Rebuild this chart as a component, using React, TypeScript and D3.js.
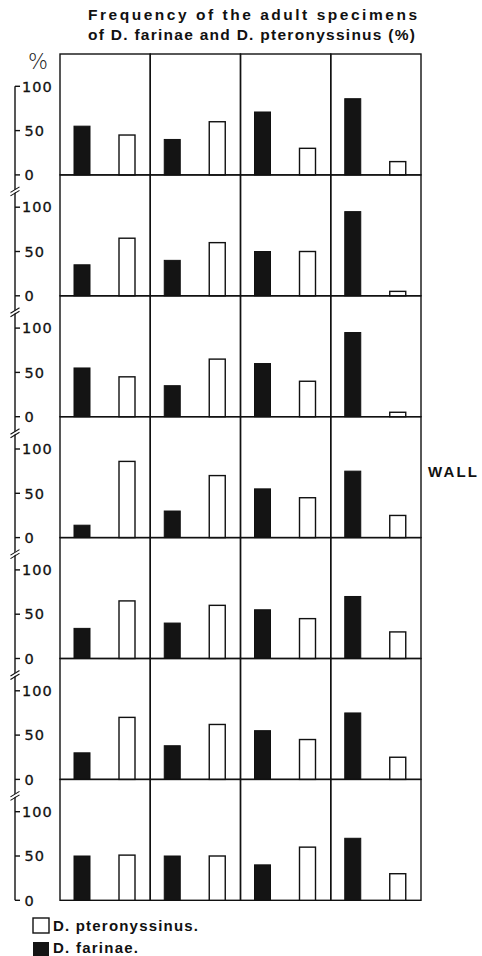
import * as d3 from "d3";

const width = 482;
const height = 956;

// 7 rows (top to bottom) x 4 columns, percent of adult specimens
const farinae = [
  [55, 40, 71, 86],
  [35, 40, 50, 95],
  [55, 35, 60, 95],
  [14, 30, 55, 75],
  [34, 40, 55, 70],
  [30, 38, 55, 75],
  [50, 50, 40, 70],
];
const pteronyssinus = [
  [45, 60, 30, 15],
  [65, 60, 50, 5],
  [45, 65, 40, 5],
  [86, 70, 45, 25],
  [65, 60, 45, 30],
  [70, 62, 45, 25],
  [51, 50, 60, 30],
];
const columns = ["c1", "c2", "c3", "c4"];
const species = ["farinae", "pteronyssinus"];
const yTicks = [0, 50, 100];
const titleLines = ["Frequency of the adult specimens", "of D. farinae and D. pteronyssinus (%)"];
const wallRow = 3;

const gridTop = 54;
const rowH = 120.9;
const gridLeft = 60;
const gridRight = 421;
const axisX = 15;
const barW = 16;

const App = () => {
  const rows = d3.range(farinae.length);

  const xCol = d3.scaleBand().domain(columns).range([gridLeft, gridRight]).padding(0);
  const xBar = d3.scalePoint().domain(species).range([22, 67]);
  const rowTop = d3.scaleLinear().domain([0, 1]).range([gridTop, gridTop + rowH]);
  // value scale inside a panel (relative to panel top)
  const y = d3.scaleLinear().domain([0, 100]).range([rowH, rowH - 88.6]);

  const zeroOf = (r: number) => rowTop(r) + y(0);
  const lastZero = zeroOf(rows.length - 1);
  const firstTop = rowTop(0) + y(100);

  const font = "'Liberation Sans', Arial, sans-serif";
  const tickFont = "'DejaVu Sans', sans-serif";

  return (
    <svg
      width={width}
      height={height}
      viewBox={`0 0 ${width} ${height}`}
      style={{ position: "absolute", left: 0, top: 0, background: "#fff" }}
    >
      {/* title */}
      <g fontFamily={font} fontWeight="bold" fontSize={15.5} fill="#111">
        <text x={88} y={19.5} textLength={329} lengthAdjust="spacing">{titleLines[0]}</text>
        <text x={88} y={40} textLength={327} lengthAdjust="spacing">{titleLines[1]}</text>
      </g>

      {/* % unit */}
      <text x={28} y={69} fontFamily={tickFont} fontSize={21} fontWeight={200} fill="#222">%</text>

      {/* panels */}
      {rows.map((r) => (
        <g key={r} transform={`translate(0,${rowTop(r)})`}>
          {columns.map((c, ci) => (
            <g key={c} transform={`translate(${xCol(c)},0)`}>
              <rect
                x={0}
                y={0}
                width={xCol.bandwidth()}
                height={rowH}
                fill="none"
                stroke="#111"
                strokeWidth={1.4}
              />
              <rect
                x={(xBar("farinae") as number) - barW / 2}
                y={y(farinae[r][ci])}
                width={barW}
                height={y(0) - y(farinae[r][ci])}
                fill="#141414"
                stroke="#111"
                strokeWidth={1}
              />
              <rect
                x={(xBar("pteronyssinus") as number) - barW / 2}
                y={y(pteronyssinus[r][ci])}
                width={barW}
                height={y(0) - y(pteronyssinus[r][ci])}
                fill="#fff"
                stroke="#111"
                strokeWidth={1.4}
              />
            </g>
          ))}
          {/* ticks and labels */}
          {yTicks.map((t) => (
            <g key={t} transform={`translate(${axisX},${y(t)})`}>
              <line x1={0} x2={5} stroke="#111" strokeWidth={1.4} />
              <text
                x={t === 100 ? 7 : 9.5}
                dy="0.36em"
                fontFamily={tickFont}
                fontSize={14.5}
                letterSpacing={1}
                fill="#111"
                stroke="#111"
                strokeWidth={0.3}
              >
                {t}
              </text>
            </g>
          ))}
        </g>
      ))}

      {/* continuous axis line */}
      <line x1={axisX} x2={axisX} y1={firstTop} y2={lastZero} stroke="#111" strokeWidth={1.4} />

      {/* axis breaks between rows */}
      {rows.slice(0, -1).map((r) => {
        const by = zeroOf(r) + 17;
        return (
          <g key={r}>
            <polygon
              points={`${axisX - 4},${by + 3} ${axisX + 4},${by - 2} ${axisX + 4},${by - 5} ${axisX - 4},${by}`}
              fill="#fff"
            />
            <line x1={axisX - 4.5} y1={by + 4} x2={axisX + 4.5} y2={by - 1.5} stroke="#111" strokeWidth={1.1} />
            <line x1={axisX - 4.5} y1={by + 0.5} x2={axisX + 4.5} y2={by - 5} stroke="#111" strokeWidth={1.1} />
          </g>
        );
      })}

      {/* WALL */}
      <text
        x={428}
        y={rowTop(wallRow) + rowH / 2 - 0.5}
        fontFamily={font}
        fontWeight="bold"
        fontSize={15}
        textLength={49}
        lengthAdjust="spacing"
        fill="#111"
      >
        WALL
      </text>

      {/* legend */}
      <g fontFamily={font} fontWeight="bold" fontSize={15} fill="#111">
        <rect x={33} y={918} width={16} height={15} fill="#fff" stroke="#111" strokeWidth={1.4} />
        <text x={53} y={931} textLength={145} lengthAdjust="spacing">D. pteronyssinus.</text>
        <rect x={33} y={942} width={16} height={15} fill="#141414" />
        <text x={53} y={953} textLength={85} lengthAdjust="spacing">D. farinae.</text>
      </g>
    </svg>
  );
};

export default App;
